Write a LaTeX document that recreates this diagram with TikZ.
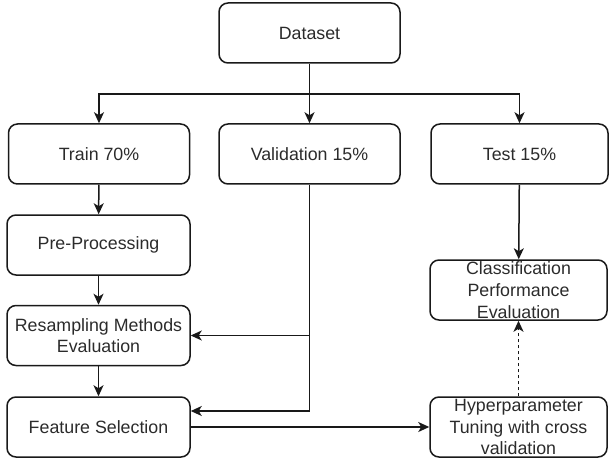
\documentclass[tikz,border=0pt]{standalone}
\usepackage{fontspec}
\setmainfont{Liberation Sans}
\usetikzlibrary{arrows.meta}
\definecolor{txt}{HTML}{2B2B2B}
\begin{document}
\begin{tikzpicture}[x=1pt,y=-1pt,
  box/.style={draw=black!90, line width=1.5pt, rounded corners=9pt,
    minimum width=181pt, minimum height=60pt, inner sep=0pt,
    align=center, text=txt, font=\fontsize{17.8}{21.7}\selectfont},
  link/.style={draw=black!90, line width=1.5pt},
  conn/.style={link, -{Stealth[length=11pt,width=10pt,inset=3pt]}},
]
\useasboundingbox (0,0) rectangle (609,462);

% nodes
\node[box] (ds)    at (309.5,33)  {Dataset};
\node[box] (train) at (99,154)    {Train 70\%};
\node[box] (val)   at (309.5,154) {Validation 15\%};
\node[box, minimum width=177pt] (test) at (519.5,154) {Test 15\%};
\node[box, minimum width=183pt] (pre)  at (98.5,245)  {Pre-Processing};
\node[box, minimum width=183pt] (res)  at (98.5,335.5) {Resampling Methods\\Evaluation};
\node[box, minimum width=183pt] (feat) at (98.5,427)  {Feature Selection};
\node[box, minimum width=177pt] (cls)  at (518.5,290)  {Classification\\Performance\\Evaluation};
\node[box, minimum width=177pt] (hyp)  at (518.5,427)  {Hyperparameter\\Tuning with cross\\validation};

% dataset split
\coordinate (split) at (309.5,94);
\draw[link] (ds.south) -- (split);
\draw[conn] (split) -| (train.north);
\draw[conn] (split) -- (val.north);
\draw[conn] (split) -| (test.north);

% training pipeline
\draw[conn] (train) -- (pre);
\draw[conn] (pre) -- (res);
\draw[conn] (res) -- (feat);

% validation feedback
\draw[conn] (val.south) |- ([yshift=16pt]feat.east);
\draw[conn] (val.south |- res.east) -- (res.east);

% tuning and evaluation
\draw[conn] (feat) -- (hyp);
\draw[conn] (test) -- (cls);
\draw[conn, dashed] (hyp) -- (cls);
\end{tikzpicture}
\end{document}
